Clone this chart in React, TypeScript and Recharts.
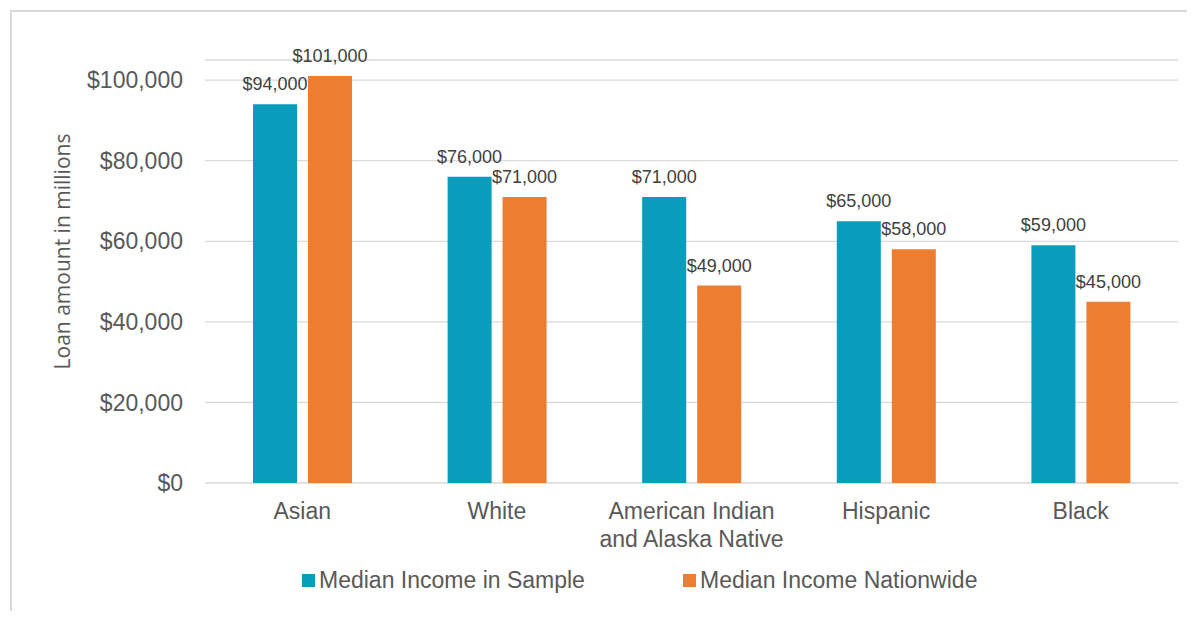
import { Bar, BarChart, CartesianGrid, LabelList, Legend, XAxis, YAxis } from "recharts";

const categories = ["Asian", "White", "American Indian and Alaska Native", "Hispanic", "Black"];
const sampleIncome = [94000, 76000, 71000, 65000, 59000];
const nationwideIncome = [101000, 71000, 49000, 58000, 45000];
const yTicks = [0, 20000, 40000, 60000, 80000, 100000];

const data = categories.map((name, i) => ({
  name,
  sample: sampleIncome[i],
  nationwide: nationwideIncome[i]
}));

const FONT = "'Liberation Sans', Arial, sans-serif";
const TEXT = "#595959";
const TEAL = "#0a9cbd";
const ORANGE = "#ed7d31";
const seriesOrder = ["sample", "nationwide"];

const money = (v: number) => "$" + v.toLocaleString("en-US");

// break long category names into lines of at most 17 characters
function wrapWords(label: string, max = 17) {
  const lines: string[] = [];
  let cur = "";
  for (const w of label.split(" ")) {
    const next = cur ? cur + " " + w : w;
    if (next.length > max && cur) {
      lines.push(cur);
      cur = w;
    } else {
      cur = next;
    }
  }
  if (cur) lines.push(cur);
  return lines;
}

function CategoryTick(props: any) {
  const { x, y, payload } = props;
  const lines = wrapWords(String(payload.value));
  return (
    <text x={x} y={y} textAnchor="middle" fontSize={23} fontFamily={FONT} fill={TEXT}>
      {lines.map((line, i) => (
        <tspan key={i} x={x} dy={i === 0 ? 17 : 28}>
          {line}
        </tspan>
      ))}
    </text>
  );
}

function AxisTitle(props: any) {
  const vb = props.viewBox;
  const cx = vb.x + 62;
  const cy = vb.y + vb.height / 2 - 20;
  return (
    <text
      x={cx}
      y={cy}
      transform={`rotate(-90 ${cx} ${cy})`}
      textAnchor="middle"
      dominantBaseline="central"
      fontSize={21}
      fontFamily="'Open Sans', sans-serif"
      fill={TEXT}
    >
      Loan amount in millions
    </text>
  );
}

function LegendContent(props: any) {
  const items = [...(props.payload || [])].sort(
    (a: any, b: any) => seriesOrder.indexOf(a.dataKey) - seriesOrder.indexOf(b.dataKey)
  );
  return (
    <div style={{ display: "flex", paddingLeft: 302, height: 36, alignItems: "center", fontFamily: FONT }}>
      {items.map((item: any) => (
        <div key={item.value} style={{ display: "flex", alignItems: "center", width: 381 }}>
          <span style={{ width: 13, height: 13, background: item.color, display: "inline-block" }} />
          <span style={{ marginLeft: 4, fontSize: 23, color: TEXT }}>{item.value}</span>
        </div>
      ))}
    </div>
  );
}

export default function App() {
  return (
    <div style={{ position: "relative", width: 1195, height: 619, margin: -8, overflow: "hidden", background: "#fff" }}>
      <div
        style={{
          position: "absolute",
          left: 10,
          top: 10,
          width: 1220,
          height: 700,
          border: "2px solid #d9d9d9"
        }}
      />
      <BarChart
        width={1195}
        height={619}
        data={data}
        margin={{ top: 60, right: 17, bottom: 21, left: 0 }}
        barSize={44}
        barGap={11}
        style={{ position: "absolute", left: 0, top: 0 }}
      >
        <CartesianGrid vertical={false} stroke="#d9d9d9" strokeWidth={1.3} />
        <XAxis
          dataKey="name"
          height={79}
          axisLine={false}
          tickLine={false}
          tickSize={0}
          tickMargin={19}
          interval={0}
          tick={<CategoryTick />}
        />
        <YAxis
          width={205}
          domain={[0, 105000]}
          ticks={yTicks}
          axisLine={false}
          tickLine={false}
          tickSize={0}
          tickMargin={22}
          tickFormatter={money}
          tick={{ fontSize: 23, fill: TEXT, fontFamily: FONT }}
          label={<AxisTitle />}
        />
        <Legend
          verticalAlign="bottom"
          content={<LegendContent />}
          wrapperStyle={{ left: 0, width: 1195 }}
        />
        <Bar dataKey="sample" name="Median Income in Sample" fill={TEAL} isAnimationActive={false}>
          <LabelList
            dataKey="sample"
            position="top"
            offset={14}
            formatter={(v: any) => money(Number(v))}
            style={{ fontSize: 18, fill: "#404040", fontFamily: FONT }}
          />
        </Bar>
        <Bar dataKey="nationwide" name="Median Income Nationwide" fill={ORANGE} isAnimationActive={false}>
          <LabelList
            dataKey="nationwide"
            position="top"
            offset={14}
            formatter={(v: any) => money(Number(v))}
            style={{ fontSize: 18, fill: "#404040", fontFamily: FONT }}
          />
        </Bar>
      </BarChart>
    </div>
  );
}
